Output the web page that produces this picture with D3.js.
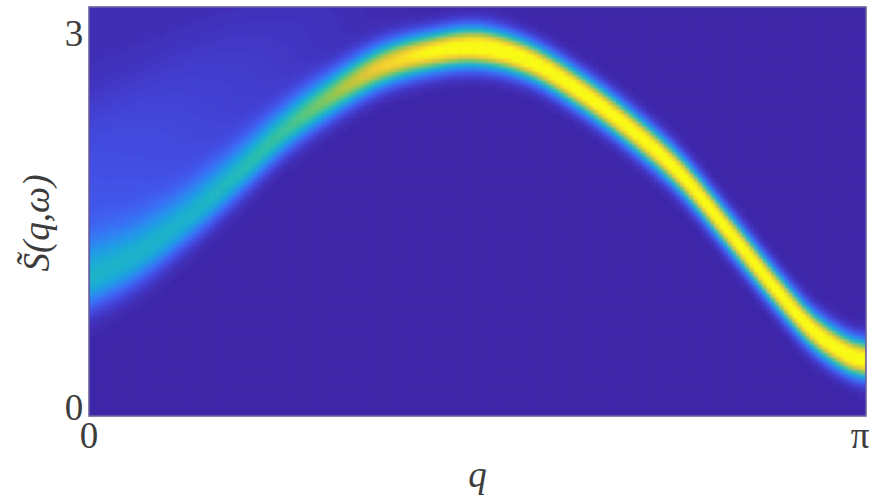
<!DOCTYPE html>
<html>
<head>
<meta charset="utf-8">
<script src="https://cdn.jsdelivr.net/npm/d3@7"></script>
<style>
  html, body { margin: 0; padding: 0; background: #fff; }
  svg { display: block; }
  text { font-family: "Liberation Serif", "DejaVu Serif", serif; fill: #3c3c3c; }
</style>
</head>
<body>
<svg id="chart" width="871" height="498"></svg>
<script>
// Momentum knots (radians) along the dispersion branch
const qKnots     = [0, 0.186, 0.388, 0.590, 0.792, 0.974, 1.177, 1.379, 1.581, 1.783, 1.985, 2.187, 2.389, 2.592, 2.794, 2.927, 3.065, 3.1416];
// Energy of the spectral peak at each knot
const peakOmega  = [0.99, 1.18, 1.48, 1.84, 2.22, 2.49, 2.73, 2.85, 2.89, 2.78, 2.54, 2.24, 1.88, 1.40, 0.91, 0.62, 0.43, 0.38];
// Peak weight (colour scale saturates at 1)
const peakHeight = [0.34, 0.35, 0.37, 0.43, 0.52, 0.66, 0.86, 1.02, 1.12, 1.10, 1.08, 1.08, 1.08, 1.08, 1.08, 1.08, 1.10, 1.10];
// Line width below and above the peak energy
const widthBelow = [0.15, 0.14, 0.13, 0.125, 0.12, 0.115, 0.11, 0.105, 0.105, 0.10, 0.10, 0.10, 0.10, 0.10, 0.10, 0.10, 0.10, 0.10];
const widthAbove = [0.22, 0.20, 0.18, 0.16, 0.14, 0.125, 0.115, 0.105, 0.105, 0.10, 0.10, 0.10, 0.10, 0.10, 0.10, 0.10, 0.10, 0.10];
// Two-particle continuum above the branch at small q
const contLevel  = [0.20, 0.18, 0.145, 0.11, 0.075, 0.045, 0.02, 0, 0, 0, 0, 0, 0, 0, 0, 0, 0, 0];
const contTop    = [2.45, 2.65, 2.90, 3.10, 3.30, 3.50, 3.70, 3.90, 4, 4, 4, 4, 4, 4, 4, 4, 4, 4];

// Axis ticks
const xTickValues = [0, Math.PI];
const xTickLabels = ["0", "π"];
const yTickValues = [0, 3];
const yTickLabels = ["0", "3"];

const margin = { left: 89, top: 7, right: 5, bottom: 82 };
const W = 871, H = 498;
const plotW = W - margin.left - margin.right;   // 777
const plotH = H - margin.top - margin.bottom;   // 409

const x = d3.scaleLinear().domain([0, Math.PI]).range([margin.left, margin.left + plotW]);
const y = d3.scaleLinear().domain([-0.072, 3.21]).range([margin.top + plotH, margin.top]);

// Parula-style colour ramp
const parula = d3.interpolateRgbBasis([
  "#3e26a8", "#4852f4", "#2e87f7", "#12b1d6", "#37c897", "#abc739", "#fec438", "#f9fb14"
]);
const color = d3.scaleSequential(parula).domain([0, 1]).clamp(true);

// Smooth Hermite interpolation through the knots
function spline(xs, ys) {
  const n = xs.length;
  const m = ys.map((_, i) => {
    if (i === 0) return (ys[1] - ys[0]) / (xs[1] - xs[0]);
    if (i === n - 1) return (ys[n - 1] - ys[n - 2]) / (xs[n - 1] - xs[n - 2]);
    return (ys[i + 1] - ys[i - 1]) / (xs[i + 1] - xs[i - 1]);
  });
  return function (t) {
    if (t <= xs[0]) return ys[0];
    if (t >= xs[n - 1]) return ys[n - 1];
    let i = d3.bisectRight(xs, t) - 1;
    i = Math.min(Math.max(i, 0), n - 2);
    const h = xs[i + 1] - xs[i];
    const s = (t - xs[i]) / h;
    const s2 = s * s, s3 = s2 * s;
    return (2 * s3 - 3 * s2 + 1) * ys[i] + (s3 - 2 * s2 + s) * h * m[i] +
           (-2 * s3 + 3 * s2) * ys[i + 1] + (s3 - s2) * h * m[i + 1];
  };
}

const omegaAt  = spline(qKnots, peakOmega);
const heightAt = d3.scaleLinear().domain(qKnots).range(peakHeight);
const sLowAt   = d3.scaleLinear().domain(qKnots).range(widthBelow);
const sHighAt  = d3.scaleLinear().domain(qKnots).range(widthAbove);
const contAt   = d3.scaleLinear().domain(qKnots).range(contLevel);
const topAt    = d3.scaleLinear().domain(qKnots).range(contTop);

const sigmoid = v => 1 / (1 + Math.exp(-v));

function intensity(q, w) {
  const w0 = omegaAt(q);
  const d = w - w0;
  const s = d < 0 ? sLowAt(q) : sHighAt(q);
  const band = heightAt(q) * Math.exp(-(d * d) / (2 * s * s));
  const c = contAt(q);
  let cont = 0;
  if (c > 0) {
    const rise = sigmoid(d / 0.1);
    const top = topAt(q);
    const cap = 0.3 + 0.7 * sigmoid((top - w) / 0.12);
    cont = c * rise * cap * Math.exp(-Math.max(d, 0) / 2.2);
  }
  return band + cont;
}

// Sample grid
const nq = 180, nw = 96;
const qStep = Math.PI / nq;
const wLo = y.domain()[0], wHi = y.domain()[1];
const wStep = (wHi - wLo) / nw;
const cells = [];
for (let i = 0; i < nq; i++) {
  for (let j = 0; j < nw; j++) {
    const q0 = i * qStep, w0 = wLo + j * wStep;
    cells.push({ q0, q1: q0 + qStep, w0, w1: w0 + wStep,
                 v: intensity(q0 + qStep / 2, w0 + wStep / 2) });
  }
}

const svg = d3.select("#chart");
const defs = svg.append("defs");
defs.append("clipPath").attr("id", "plot-clip")
  .append("rect")
  .attr("x", margin.left).attr("y", margin.top)
  .attr("width", plotW).attr("height", plotH);
defs.append("filter").attr("id", "soft")
  .attr("x", "-2%").attr("y", "-2%").attr("width", "104%").attr("height", "104%")
  .append("feGaussianBlur").attr("stdDeviation", 1.2);

const plot = svg.append("g").attr("clip-path", "url(#plot-clip)");
plot.append("rect")
  .attr("x", margin.left).attr("y", margin.top)
  .attr("width", plotW).attr("height", plotH)
  .attr("fill", color(0));

plot.append("g").attr("filter", "url(#soft)")
  .selectAll("rect").data(cells).join("rect")
  .attr("x", d => x(d.q0))
  .attr("y", d => y(d.w1))
  .attr("width", d => x(d.q1) - x(d.q0) + 0.6)
  .attr("height", d => y(d.w0) - y(d.w1) + 0.6)
  .attr("fill", d => color(d.v));

// Frame
svg.append("rect")
  .attr("x", margin.left).attr("y", margin.top)
  .attr("width", plotW).attr("height", plotH)
  .attr("fill", "none")
  .attr("stroke", "#6b609e")
  .attr("stroke-width", 1.6);

// Tick labels
const fs = 37;
svg.append("g").selectAll("text").data(xTickValues).join("text")
  .attr("x", (d, i) => i === xTickValues.length - 1 ? x(d) - 6 : x(d))
  .attr("y", 448)
  .attr("text-anchor", "middle")
  .attr("font-size", fs)
  .text((d, i) => xTickLabels[i]);

svg.append("g").selectAll("text").data(yTickValues).join("text")
  .attr("x", 74)
  .attr("y", d => y(d) + 13)
  .attr("text-anchor", "middle")
  .attr("font-size", fs)
  .text((d, i) => yTickLabels[i]);

// Axis titles
svg.append("text")
  .attr("x", x(Math.PI / 2))
  .attr("y", 487)
  .attr("text-anchor", "middle")
  .attr("font-size", fs)
  .attr("font-style", "italic")
  .text("q");

svg.append("text")
  .attr("transform", "translate(49,223) rotate(-90)")
  .attr("text-anchor", "middle")
  .attr("font-size", fs)
  .attr("font-style", "italic")
  .text("S\u0303(q,ω)");
</script>
</body>
</html>
